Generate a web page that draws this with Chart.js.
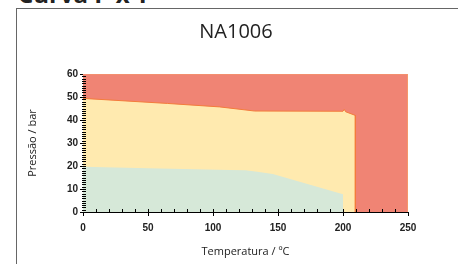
<!DOCTYPE html>
<html>
<head>
<meta charset="utf-8">
<script src="https://cdn.jsdelivr.net/npm/chart.js@4/dist/chart.umd.min.js"></script>
<style>
  html, body { margin: 0; padding: 0; background: #fff; overflow: hidden; }
  #heading { position: absolute; left: 18px; top: -18px; font: bold 24px "Open Sans", sans-serif; line-height: 24px; color: #222; white-space: nowrap; }
  #box { position: absolute; left: 16px; top: 8px; width: 500px; height: 300px; border-left: 1px solid #666; border-top: 1px solid #666; }
  #wrap { position: absolute; left: 0; top: 0; width: 458px; height: 264px; }
</style>
</head>
<body>
<div id="heading">Curva P x T</div>
<div id="box"></div>
<div id="wrap"><canvas id="pt"></canvas></div>
<script>
// zona vermelha (fundo)
var redTemp = [0, 250, 250];
var redPres = [60, 60, 0];
// zona amarela
var yellowTemp = [0, 65, 105, 132, 200, 201, 202, 209.5, 209.5];
var yellowPres = [49.4, 47.2, 45.7, 43.9, 43.8, 44.6, 43.6, 42.0, 0];
// zona verde
var greenTemp = [0, 50, 113, 125, 134, 146, 200, 200];
var greenPres = [19.7, 19.0, 18.3, 18.2, 17.5, 16.5, 7.7, 0];

var xTicks = [0, 50, 100, 150, 200, 250];
var yTicks = [0, 10, 20, 30, 40, 50, 60];

function pts(t, p) {
    return t.map(function (v, i) { return { x: v, y: p[i] }; });
}

// pequenos traços de escala (minor ticks)
var minorTicks = {
    id: 'minorTicks',
    afterDatasetsDraw: function (chart) {
        var c = chart.ctx, xs = chart.scales.x, ys = chart.scales.y;
        var x0 = xs.getPixelForValue(0), y0 = ys.getPixelForValue(0);
        c.save();
        c.strokeStyle = '#000';
        c.lineWidth = 1;
        c.beginPath();
        for (var v = 1; v < 60; v++) {
            var y = Math.round(ys.getPixelForValue(v)) + 0.5;
            c.moveTo(x0 - 1, y);
            c.lineTo(x0 + 3, y);
        }
        for (var t = 10; t < 250; t += 10) {
            var x = Math.round(xs.getPixelForValue(t)) + 0.5;
            c.moveTo(x, y0);
            c.lineTo(x, y0 - 3);
        }
        c.stroke();
        c.restore();
    }
};

var ctx = document.getElementById('pt').getContext('2d');
var chart = new Chart(ctx, {
    type: 'line',
    data: {
        datasets: [{
            data: pts(greenTemp, greenPres),
            backgroundColor: '#D6E8D8',
            borderWidth: 0,
            fill: 'origin'
        }, {
            data: pts(yellowTemp, yellowPres),
            backgroundColor: '#FFEAAF',
            borderColor: '#F47C3C',
            borderWidth: 1,
            fill: 'origin'
        }, {
            data: pts(redTemp, redPres),
            backgroundColor: '#F08474',
            borderColor: '#F59A6A',
            borderWidth: 1,
            fill: 'origin'
        }]
    },
    options: {
        responsive: true,
        maintainAspectRatio: false,
        animation: false,
        elements: { point: { radius: 0 }, line: { tension: 0 } },
        layout: { padding: { left: 17, right: 3, top: 12, bottom: 0 } },
        plugins: {
            legend: { display: false },
            tooltip: { enabled: false },
            title: {
                display: true,
                text: 'NA1006',
                color: '#222',
                font: { family: 'Open Sans', size: 20, weight: 'normal' },
                padding: { top: 8, bottom: 30 }
            }
        },
        scales: {
            x: {
                type: 'linear',
                min: 0, max: 250,
                afterBuildTicks: function (s) { s.ticks = xTicks.map(function (v) { return { value: v }; }); },
                afterFit: function (s) { s.height = 52; },
                ticks: {
                    color: '#222',
                    font: { family: 'Liberation Sans', size: 10, weight: 'bold' },
                    padding: 6,
                    maxRotation: 0
                },
                grid: { drawOnChartArea: false, color: '#000', tickLength: 4 },
                border: { color: '#000' },
                title: {
                    display: true,
                    text: 'Temperatura / ºC',
                    color: '#222',
                    font: { family: 'Open Sans', size: 11 },
                    padding: { top: 8, bottom: 6 }
                }
            },
            y: {
                min: 0, max: 60,
                afterBuildTicks: function (s) { s.ticks = yTicks.map(function (v) { return { value: v }; }); },
                afterFit: function (s) { s.width = 66; },
                ticks: {
                    color: '#222',
                    font: { family: 'Liberation Sans', size: 10, weight: 'bold' },
                    padding: 2
                },
                grid: { drawOnChartArea: false, color: '#000', tickLength: 3 },
                border: { color: '#000' },
                title: {
                    display: true,
                    text: 'Pressão / bar',
                    color: '#222',
                    font: { family: 'Open Sans', size: 11 },
                    padding: { top: 9, bottom: 0 }
                }
            },
            // espaço vazio à direita do gráfico
            spacer: {
                type: 'linear',
                position: 'right',
                afterFit: function (s) { s.width = 47; },
                ticks: { display: false },
                grid: { display: false, drawTicks: false },
                border: { display: false }
            }
        }
    },
    plugins: [minorTicks]
});
</script>
</body>
</html>
